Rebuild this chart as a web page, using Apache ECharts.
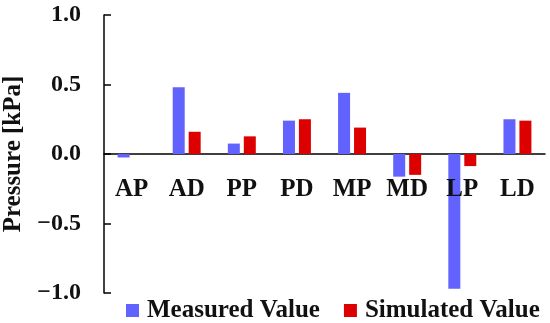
<!DOCTYPE html>
<html>
<head>
<meta charset="utf-8">
<script src="https://cdn.jsdelivr.net/npm/echarts@6/dist/echarts.min.js"></script>
<style>html,body{margin:0;padding:0;background:#fff}#c{width:550px;height:323px}</style>
</head>
<body>
<div id="c"></div>
<script>
const categories = ['AP', 'AD', 'PP', 'PD', 'MP', 'MD', 'LP', 'LD'];
const measured = [-0.025, 0.48, 0.075, 0.24, 0.44, -0.163, -0.97, 0.25];
const simulated = ['-', 0.16, 0.127, 0.25, 0.19, -0.15, -0.087, 0.24];
const yTicks = { min: -1, max: 1, interval: 0.5 };

const FONT = '"Liberation Serif", "Times New Roman", serif';
const chart = echarts.init(document.getElementById('c'), null, { renderer: 'canvas' });
chart.setOption({
  animation: false,
  backgroundColor: '#fff',
  grid: { left: 104, right: 5, top: 15, bottom: 30, containLabel: false, outerBoundsMode: 'none' },
  legend: {
    left: 121, top: 293,
    itemWidth: 13, itemHeight: 13, itemGap: 24,
    icon: 'rect',
    textStyle: { fontFamily: FONT, fontSize: 25, fontWeight: 'bold', color: '#111', padding: [0, 0, 0, 3] },
    data: ['Measured Value', 'Simulated Value']
  },
  xAxis: [{
    type: 'category',
    data: categories,
    position: 'bottom',
    offset: -120,
    z: 10,
    axisLine: { show: false, onZero: false },
    axisTick: { show: false },
    axisLabel: { fontFamily: FONT, fontSize: 25, fontWeight: 'bold', color: '#111', margin: 4 },
    splitLine: { show: false }
  }, {
    type: 'category',
    data: categories,
    position: 'bottom',
    axisLine: { show: true, onZero: true, lineStyle: { color: '#000', width: 1.5 } },
    axisTick: { show: false },
    axisLabel: { show: false },
    splitLine: { show: false }
  }],
  yAxis: {
    type: 'value',
    min: yTicks.min, max: yTicks.max, interval: yTicks.interval,
    name: 'Pressure [kPa]',
    nameLocation: 'middle',
    nameGap: 78,
    nameRotate: 90,
    nameTextStyle: { fontFamily: FONT, fontSize: 25, fontWeight: 'bold', color: '#111' },
    axisLine: { show: true, lineStyle: { color: '#000', width: 1.5 } },
    axisTick: { show: true, inside: true, length: 7, lineStyle: { color: '#000', width: 1.5 } },
    axisLabel: {
      fontFamily: FONT, fontSize: 24, fontWeight: 'bold', color: '#111', margin: 23,
      formatter: v => (v < 0 ? '\u2212' : '') + Math.abs(v).toFixed(1)
    },
    splitLine: { show: false }
  },
  series: [
    { name: 'Measured Value', type: 'bar', data: measured, barWidth: 12, barGap: '33%', itemStyle: { color: '#6262FF' } },
    { name: 'Simulated Value', type: 'bar', data: simulated, barWidth: 12, itemStyle: { color: '#DD0000' } }
  ]
});
</script>
</body>
</html>
